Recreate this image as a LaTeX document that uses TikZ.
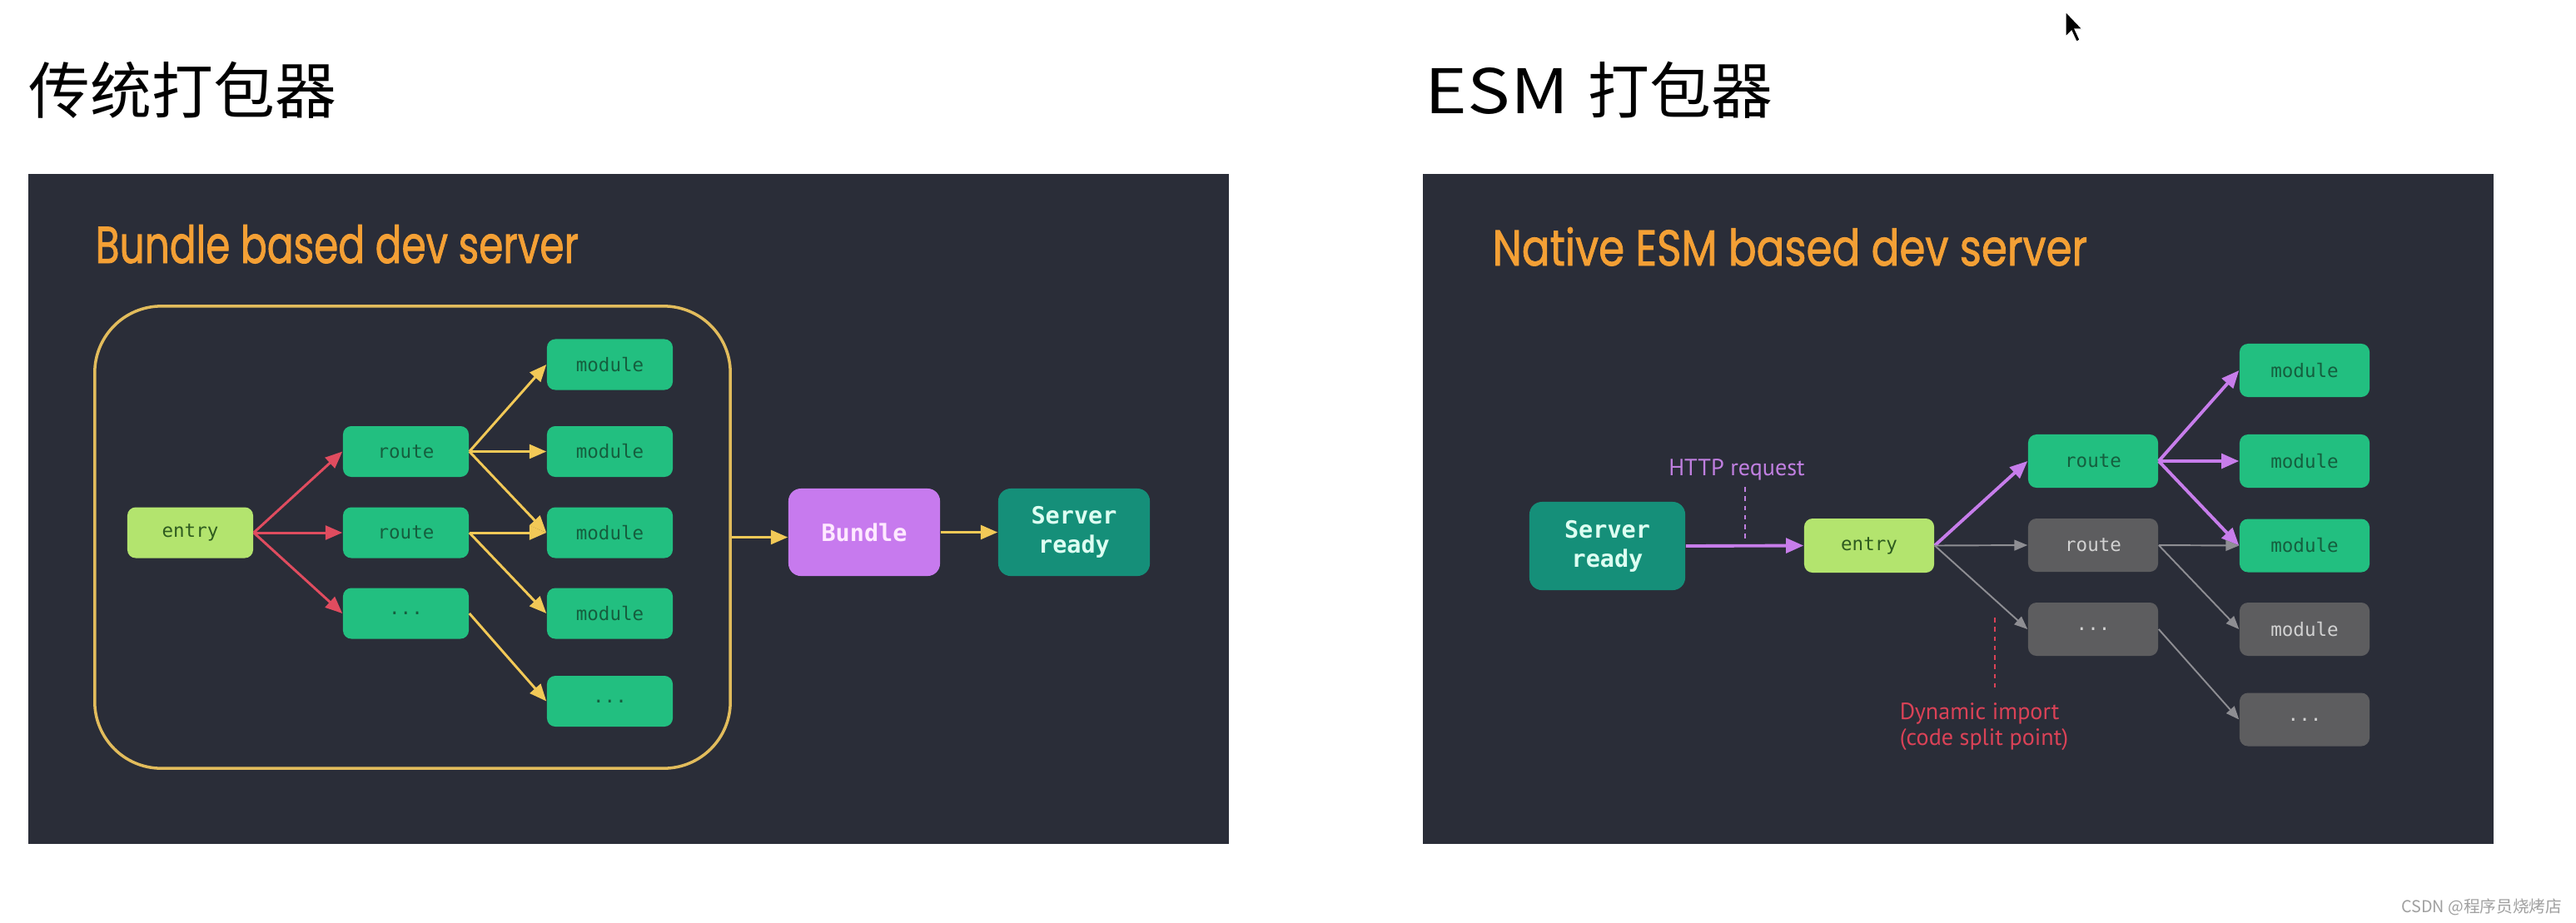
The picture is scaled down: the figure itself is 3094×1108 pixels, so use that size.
\documentclass[tikz,border=0pt]{standalone}
\usepackage{fontspec}
\setmainfont{Liberation Sans}
\newfontfamily\cjk{Noto Sans CJK SC}
\newfontfamily\titlefont{Poppins}[FakeBold=1.5]
\newfontfamily\monofont{DejaVu Sans Mono}
\newfontfamily\notefont{PT Sans}
\usetikzlibrary{arrows.meta}
\definecolor{panel}{HTML}{2A2D38}
\definecolor{orangeT}{HTML}{F4A035}
\definecolor{modgreen}{HTML}{22BF80}
\definecolor{modtext}{HTML}{155E3E}
\definecolor{entryfill}{HTML}{B3E46E}
\definecolor{entrytext}{HTML}{2E5B1F}
\definecolor{bundlefill}{HTML}{C77AEE}
\definecolor{bundletext}{HTML}{FFE9FF}
\definecolor{serverfill}{HTML}{158F79}
\definecolor{servertext}{HTML}{DDFFF2}
\definecolor{goldline}{HTML}{E2BC5C}
\definecolor{yellowA}{HTML}{F2C957}
\definecolor{redA}{HTML}{E04C5F}
\definecolor{purpleA}{HTML}{C77DEB}
\definecolor{grayfill}{HTML}{5D5D5F}
\definecolor{graytext}{HTML}{D2D2D2}
\definecolor{grayA}{HTML}{8E8E93}
\definecolor{redtext}{HTML}{DB4257}
\definecolor{purpletext}{HTML}{C07FE0}
\definecolor{wm}{HTML}{A0A0A0}
\tikzset{
  box/.style={rounded corners=0.1cm, minimum width=1.51cm, minimum height=0.61cm, inner sep=0pt,
    font=\monofont\fontsize{6.4}{7.7}\selectfont},
  greenbox/.style={box, fill=modgreen, text=modtext},
  entrybox/.style={box, fill=entryfill, text=entrytext},
  graybox/.style={box, fill=grayfill, text=graytext},
  bigbox/.style={rounded corners=0.15cm, minimum width=1.82cm, minimum height=1.05cm, inner sep=0pt,
    align=center, font=\monofont\bfseries\fontsize{8.1}{10}\selectfont},
  yarrow/.style={draw=yellowA, line width=0.85pt, -{Triangle[length=5.8pt,width=4.8pt]}},
  rarrow/.style={draw=redA, line width=0.85pt, -{Triangle[length=5.8pt,width=4.8pt]}},
  parrow/.style={draw=purpleA, line width=1.1pt, -{Triangle[length=6pt,width=5pt]}},
  garrow/.style={draw=grayA, line width=0.55pt, -{Triangle[length=4.5pt,width=3.6pt]}},
}
\begin{document}
\begin{tikzpicture}[x=0.01cm, y=-0.01cm]
\useasboundingbox (0,0) rectangle (3094,1108);
\fill[white] (0,0) rectangle (3094,1108);
% titles
\node[anchor=west, inner sep=0pt, font=\cjk\fontsize{21}{25}\selectfont] (t1) at (34,108) {传统打包器};
\node[anchor=west, inner sep=0pt, font=\cjk\fontsize{21}{25}\selectfont] (t2) at (1711,108) {\scalebox{1.17}[1]{ESM}\hspace{0.07cm} 打包器};
% panels
\fill[panel] (34,209) rectangle (1476,1014);
\fill[panel] (1709,209) rectangle (2995,1014);
% left panel
\node[anchor=base west, inner sep=0pt, text=orangeT] (lt) at (114,316) {\resizebox{5.8cm}{0.46cm}{\titlefont Bundle based dev server}};
\node[draw=goldline, line width=1pt, rounded corners=0.8cm, minimum width=7.63cm, minimum height=5.55cm, inner sep=0pt] (group) at (495.5,645.5) {};
\node[entrybox] (entry) at (228.5,640) {entry};
\node[greenbox] (r1) at (487.5,542.5) {route};
\node[greenbox] (r2) at (487.5,640) {route};
\node[greenbox] (r3) at (487.5,737) {...};
\node[greenbox] (m1) at (732.5,438) {module};
\node[greenbox] (m2) at (732.5,542.5) {module};
\node[greenbox] (m3) at (732.5,640) {module};
\node[greenbox] (m4) at (732.5,737) {module};
\node[greenbox] (m5) at (732.5,842.5) {...};
\node[bigbox, fill=bundlefill, text=bundletext] (bundle) at (1038,639.5) {Bundle};
\node[bigbox, fill=serverfill, text=servertext] (srvL) at (1290,639.5) {Server\\ready};
\draw[rarrow] (entry.east) -- (r1.west);
\draw[rarrow] (entry.east) -- (r2.west);
\draw[rarrow] (entry.east) -- (r3.west);
\draw[yarrow] (r1.east) -- (m1.west);
\draw[yarrow] (r1.east) -- (m2.west);
\draw[yarrow] (r1.east) -- (m3.west);
\draw[yarrow] (r2.east) -- (m3.west);
\draw[yarrow] (r2.east) -- (m4.west);
\draw[yarrow] (r3.east) -- (m5.west);
\draw[yarrow] (group.east) -- (group.east -| bundle.west);
\draw[yarrow] (bundle.east) -- (srvL.west);
% right panel
\node[anchor=base west, inner sep=0pt, text=orangeT] (rt) at (1792,319) {\resizebox{7.14cm}{0.46cm}{\titlefont Native ESM based dev server}};
\node[bigbox, fill=serverfill, text=servertext, minimum width=1.87cm, minimum height=1.06cm] (srvR) at (1930.5,656) {Server\\ready};
\node[entrybox, minimum width=1.56cm, minimum height=0.65cm] (entryR) at (2245,655.5) {entry};
\node[greenbox, minimum width=1.56cm, minimum height=0.64cm] (rr1) at (2514,554) {route};
\node[graybox, minimum width=1.56cm, minimum height=0.64cm] (rr2) at (2514,655) {route};
\node[graybox, minimum width=1.56cm, minimum height=0.64cm] (rr3) at (2514,756) {...};
\node[greenbox, minimum width=1.56cm, minimum height=0.64cm] (mm1) at (2768,445) {module};
\node[greenbox, minimum width=1.56cm, minimum height=0.64cm] (mm2) at (2768,554) {module};
\node[greenbox, minimum width=1.56cm, minimum height=0.64cm] (mm3) at (2768,655.5) {module};
\node[graybox, minimum width=1.56cm, minimum height=0.64cm] (mm4) at (2768,756) {module};
\node[graybox, minimum width=1.56cm, minimum height=0.64cm] (mm5) at (2768,864.5) {...};
\draw[parrow] (srvR.east) -- (entryR.west);
\draw[parrow] (entryR.east) -- (rr1.west);
\draw[garrow] (entryR.east) -- (rr2.west);
\draw[garrow] (entryR.east) -- (rr3.west);
\draw[parrow] (rr1.east) -- (mm1.west);
\draw[parrow] (rr1.east) -- (mm2.west);
\draw[parrow] (rr1.east) -- (mm3.west);
\draw[garrow] (rr2.east) -- (mm3.west);
\draw[garrow] (rr2.east) -- (mm4.west);
\draw[garrow] (rr3.east) -- (mm5.west);
% annotations
\node[inner sep=0pt, text=purpletext, font=\notefont\fontsize{8}{9.5}\selectfont] (http) at (2086,564) {HTTP request};
\coordinate (httpTop) at (2096,585);
\coordinate (httpBot) at (2096,649);
\draw[purpletext, line width=0.5pt, dash pattern=on 1.6pt off 1.6pt] (httpTop) -- (httpBot);
\node[inner sep=0pt, text=redtext, align=left, font=\notefont\fontsize{8}{8.9}\selectfont] (dyn) at (2383,873) {Dynamic import\\(code split point)};
\coordinate (dynTop) at (2396,742);
\coordinate (dynBot) at (2396,826);
\draw[redtext, line width=0.5pt, dash pattern=on 1.6pt off 1.6pt] (dynTop) -- (dynBot);
% cursor
\fill[black, draw=white, line width=0.3pt] (2481,14) -- (2481,44) -- (2488,37) -- (2494,50) -- (2498,48) -- (2492,35) -- (2501,35) -- cycle;
% watermark
\node[anchor=east, inner sep=0pt, text=wm, font=\cjk\fontsize{5.6}{6.5}\selectfont] (wmark) at (3078,1090) {CSDN @程序员烧烤店};
\end{tikzpicture}
\end{document}
